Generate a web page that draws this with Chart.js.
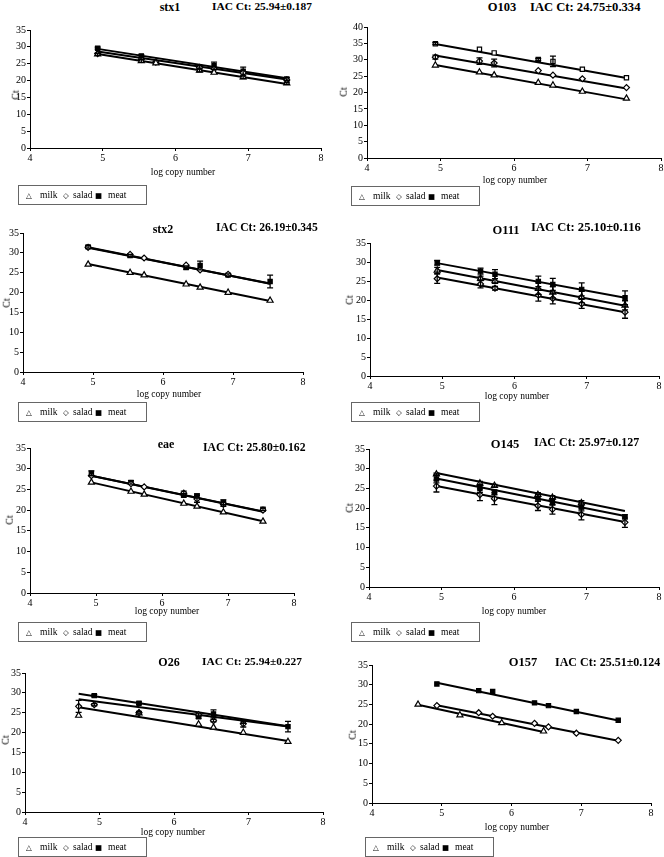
<!DOCTYPE html>
<html>
<head>
<meta charset="utf-8">
<script src="https://cdn.jsdelivr.net/npm/chart.js@4.4.1/dist/chart.umd.min.js"></script>
<style>
  body { margin: 0; background: #fff; width: 664px; height: 857px; position: relative; overflow: hidden; font-family: "Liberation Serif", "Times New Roman", serif; color: #000; }
  canvas { position: absolute; }
  .txt { position: absolute; white-space: nowrap; line-height: 1; }
  .lg { position: absolute; border: 1px solid #666; box-sizing: border-box; background: #fff; }
  .lg span { position: absolute; line-height: 1; white-space: nowrap; }
  .mk { font-family: "DejaVu Sans", sans-serif; font-size: 7.5px; }
</style>
</head>
<body>
<script>
// ----------- Data -----------
const xMain = [4.93, 5.53, 5.73, 6.33, 6.53, 6.93, 7.53];
const xO26 = [4.72, 4.93, 5.53, 6.33, 6.53, 6.93, 7.53];
const xO157Milk = [4.66, 5.26, 5.86, 6.46];
const xFit = [4.93, 7.53];
const xFitO26 = [4.72, 7.53];
const xFitO157Milk = [4.66, 6.46];
const xTicks = [4, 5, 6, 7, 8];
const seriesNames = ["milk", "salad", "meat"];
const genes = ["stx1", "O103", "stx2", "O111", "eae", "O145", "O26", "O157"];
const iacLabels = ["IAC Ct: 25.94±0.187", "IAC Ct: 24.75±0.334", "IAC Ct: 26.19±0.345", "IAC Ct: 25.10±0.116",
                   "IAC Ct: 25.80±0.162", "IAC Ct: 25.97±0.127", "IAC Ct: 25.94±0.227", "IAC Ct: 25.51±0.124"];

// stx1
const stx1Milk = [27.8, 25.8, 25.2, 23.0, 22.4, 21.0, 19.2];
const stx1MilkErr = [0.3, 0.4, 0, 0.4, 0, 0.4, 0.3];
const stx1Salad = [28.0, 26.3, 25.5, 23.9, 23.4, 22.3, 20.2];
const stx1SaladErr = [0, 0, 0, 0, 0, 0, 0];
const stx1Meat = [29.6, 27.3, null, 24.0, 24.4, 22.8, 20.5];
const stx1MeatErr = [0.3, 0.4, 0, 0.4, 1.1, 1.2, 0.4];
const stx1FitMilk = [27.9, 19.0], stx1FitSalad = [28.6, 20.3], stx1FitMeat = [29.4, 20.7];

// O103
const o103Milk = [28.3, 26.2, 25.3, 23.0, 22.2, 20.3, 18.2];
const o103MilkErr = [0, 0, 0, 0, 0, 0, 0];
const o103Salad = [30.8, 29.6, 29.0, 26.7, 25.3, 24.2, 21.5];
const o103SaladErr = [0.6, 1.0, 1.2, 0, 0, 0, 0];
const o103Meat = [34.9, 33.2, 32.1, 30.1, 29.5, 27.1, 24.5];
const o103MeatErr = [0.3, 0, 0, 0.3, 1.6, 0, 0];
const o103FitMilk = [28.4, 17.9], o103FitSalad = [31.3, 21.2], o103FitMeat = [34.8, 24.4];

// stx2
const stx2Milk = [27.1, 25.0, 24.4, 22.1, 21.3, 20.0, 18.0];
const stx2MilkErr = [0, 0, 0, 0, 0, 0, 0];
const stx2Salad = [31.4, 29.6, 28.7, 26.9, 25.7, 24.6, null];
const stx2SaladErr = [0, 0, 0, 0, 0, 0, 0];
const stx2Meat = [31.5, 29.3, null, 26.3, 26.8, 24.4, 22.8];
const stx2MeatErr = [0.3, 0.3, 0, 0.4, 1.1, 0.3, 1.6];
const stx2FitMilk = [27.2, 17.9], stx2FitSalad = [31.3, 22.3], stx2FitMeat = [31.4, 22.2];

// O111
const o111Milk = [27.8, 25.7, 25.0, 23.0, 22.0, 20.8, 18.6];
const o111MilkErr = [0.8, 0.6, 0.6, 1.5, 1.5, 1.5, 1.2];
const o111Salad = [25.6, 24.2, 23.1, 21.3, 20.4, 19.0, 16.8];
const o111SaladErr = [1.2, 1.0, 0.5, 1.6, 1.4, 1.2, 1.6];
const o111Meat = [29.8, 27.6, 26.8, 24.9, 24.1, 22.8, 20.6];
const o111MeatErr = [0.6, 0.8, 1.2, 1.4, 1.6, 1.7, 1.8];
const o111FitMilk = [27.9, 18.5], o111FitSalad = [25.9, 16.8], o111FitMeat = [29.7, 20.6];

// eae
const eaeMilk = [26.7, 24.5, 23.8, 21.6, 20.9, 19.5, 17.3];
const eaeMilkErr = [0, 0, 0, 0, 0, 0, 0];
const eaeSalad = [28.3, 26.4, 25.6, 24.1, 22.7, 21.4, 20.0];
const eaeSaladErr = [0, 0, 0, 0.5, 0.8, 0.5, 0];
const eaeMeat = [28.9, 26.7, null, 23.6, 23.4, 21.9, 20.2];
const eaeMeatErr = [0.6, 0.4, 0, 0.4, 0.5, 0.6, 0.3];
const eaeFitMilk = [26.7, 17.3], eaeFitSalad = [28.3, 19.6], eaeFitMeat = [28.3, 19.7];

// O145
const o145Milk = [28.6, 26.3, 25.7, 23.4, 22.7, 21.3, null];
const o145MilkErr = [0.3, 0.5, 0.3, 0.5, 0.5, 0.6, 0];
const o145Salad = [25.6, 23.4, 22.4, 20.6, 19.7, 18.4, 16.4];
const o145SaladErr = [1.5, 1.5, 1.5, 1.2, 1.2, 1.4, 1.3];
const o145Meat = [27.4, 25.0, 24.0, 22.6, 21.6, 20.3, 17.8];
const o145MeatErr = [1.0, 1.0, 0.6, 0.8, 0.8, 1.0, 0.5];
const o145FitMilk = [28.9, 19.3], o145FitSalad = [25.6, 16.5], o145FitMeat = [27.5, 18.0];

// O26
const o26Milk = [24.3, null, 24.9, 22.1, 21.3, 20.0, 17.7];
const o26MilkErr = [0, 0, 0, 0, 0, 0, 0];
const o26Salad = [26.6, 27.0, 25.0, 24.5, 23.0, 22.2, null];
const o26SaladErr = [1.5, 0.3, 0.3, 0.4, 0.3, 0.8, 0];
const o26Meat = [null, 29.3, 27.4, 24.0, 24.7, 22.7, 21.5];
const o26MeatErr = [0, 0.3, 0.3, 0.4, 1.0, 0.4, 1.3];
const o26FitMilk = [26.4, 17.9], o26FitSalad = [28.4, 21.5], o26FitMeat = [29.8, 21.6];

// O157
const o157Milk = [25.0, 22.3, 20.3, 18.2];
const o157MilkErr = [0, 0, 0, 0];
const o157Salad = [24.7, 22.9, 22.0, 20.2, 19.3, 17.7, 15.9];
const o157SaladErr = [0, 0, 0, 0, 0, 0, 0];
const o157Meat = [30.2, 28.5, 28.3, 25.4, 24.7, 23.2, 21.0];
const o157MeatErr = [0, 0, 0, 0, 0, 0, 0];
const o157FitMilk = [24.9, 18.0], o157FitSalad = [24.8, 15.8], o157FitMeat = [30.5, 20.9];

// ----------- Panel layout (pixel positions) -----------
const panels = [
  { plot: [30, 321, 30, 148], yMax: 35, gene: [170, 7, 12], iac: [212, 7, 11.4], xt: [183, 173], ct: [16, 95], lg: [18, 185],
    x: [xMain, xMain, xMain], y: [stx1Milk, stx1Salad, stx1Meat], err: [stx1MilkErr, stx1SaladErr, stx1MeatErr],
    fx: [xFit, xFit, xFit], fy: [stx1FitMilk, stx1FitSalad, stx1FitMeat] },
  { plot: [367, 661, 27, 158], yMax: 40, gene: [502, 7, 12.5], iac: [530, 7, 12.6], xt: [515, 181], ct: [344, 92], lg: [351, 186],
    x: [xMain, xMain, xMain], y: [o103Milk, o103Salad, o103Meat], err: [o103MilkErr, o103SaladErr, o103MeatErr],
    fx: [xFit, xFit, xFit], fy: [o103FitMilk, o103FitSalad, o103FitMeat], openMeat: true },
  { plot: [23, 303, 233, 372], yMax: 35, gene: [163, 229, 12], iac: [216, 228, 11.6], xt: [169, 395], ct: [7, 303], lg: [18, 402],
    x: [xMain, xMain, xMain], y: [stx2Milk, stx2Salad, stx2Meat], err: [stx2MilkErr, stx2SaladErr, stx2MeatErr],
    fx: [xFit, xFit, xFit], fy: [stx2FitMilk, stx2FitSalad, stx2FitMeat] },
  { plot: [370, 659, 243, 376], yMax: 35, gene: [506, 230, 12.5], iac: [531, 227, 12.6], xt: [517, 397], ct: [350, 300], lg: [351, 402],
    x: [xMain, xMain, xMain], y: [o111Milk, o111Salad, o111Meat], err: [o111MilkErr, o111SaladErr, o111MeatErr],
    fx: [xFit, xFit, xFit], fy: [o111FitMilk, o111FitSalad, o111FitMeat] },
  { plot: [30, 294, 448, 593], yMax: 35, gene: [166, 444, 12], iac: [203, 448, 11.7], xt: [167, 612], ct: [10, 520], lg: [18, 622],
    x: [xMain, xMain, xMain], y: [eaeMilk, eaeSalad, eaeMeat], err: [eaeMilkErr, eaeSaladErr, eaeMeatErr],
    fx: [xFit, xFit, xFit], fy: [eaeFitMilk, eaeFitSalad, eaeFitMeat] },
  { plot: [369, 659, 449, 587], yMax: 35, gene: [505, 444, 12.5], iac: [534, 442, 12], xt: [514, 612], ct: [350, 508], lg: [351, 622],
    x: [xMain, xMain, xMain], y: [o145Milk, o145Salad, o145Meat], err: [o145MilkErr, o145SaladErr, o145MeatErr],
    fx: [xFit, xFit, xFit], fy: [o145FitMilk, o145FitSalad, o145FitMeat] },
  { plot: [25, 323, 673, 812], yMax: 35, gene: [169, 662, 12], iac: [202, 662, 11.4], xt: [173, 833], ct: [6, 740], lg: [18, 837],
    x: [xO26, xO26, xO26], y: [o26Milk, o26Salad, o26Meat], err: [o26MilkErr, o26SaladErr, o26MeatErr],
    fx: [xFitO26, xFitO26, xFitO26], fy: [o26FitMilk, o26FitSalad, o26FitMeat] },
  { plot: [372, 651, 665, 803], yMax: 35, gene: [523, 662, 12.5], iac: [555, 662, 12], xt: [517, 828], ct: [353, 735], lg: [365, 837],
    x: [xO157Milk, xMain, xMain], y: [o157Milk, o157Salad, o157Meat], err: [o157MilkErr, o157SaladErr, o157MeatErr],
    fx: [xFitO157Milk, xFit, xFit], fy: [o157FitMilk, o157FitSalad, o157FitMeat] }
];

const markerStyles = [
  { pointStyle: "triangle", radius: 3.5, bg: "#fff" },
  { pointStyle: "rectRot", radius: 3, bg: "#fff" },
  { pointStyle: "rect", radius: 3, bg: "#000" }
];

// ----------- Error bars plugin -----------
const errorBars = {
  id: "errorBars",
  afterDatasetsDraw(chart) {
    const { ctx, scales: { x, y } } = chart;
    ctx.save();
    ctx.strokeStyle = "#000";
    ctx.lineWidth = 1.3;
    chart.data.datasets.forEach(ds => {
      if (!ds.errs) return;
      ds.data.forEach((pt, i) => {
        const e = ds.errs[i];
        if (!e) return;
        const px = x.getPixelForValue(pt.x);
        const top = y.getPixelForValue(pt.y + e), bot = y.getPixelForValue(pt.y - e);
        ctx.beginPath();
        ctx.moveTo(px, top); ctx.lineTo(px, bot);
        ctx.moveTo(px - 3, top); ctx.lineTo(px + 3, top);
        ctx.moveTo(px - 3, bot); ctx.lineTo(px + 3, bot);
        ctx.stroke();
      });
    });
    ctx.restore();
  }
};

// ----------- Helpers -----------
function addText(str, x, y, size, opts = {}) {
  const d = document.createElement("div");
  d.className = "txt";
  d.textContent = str;
  d.style.fontSize = size + "px";
  d.style.top = (y - size / 2) + "px";
  d.style.left = x + "px";
  if (opts.bold) d.style.fontWeight = "bold";
  let tf = "";
  if (opts.center) tf += "translateX(-50%) ";
  if (opts.rotate) tf += "rotate(-90deg)";
  if (tf) d.style.transform = tf;
  document.body.appendChild(d);
}

function addLegend(x, y) {
  const box = document.createElement("div");
  box.className = "lg";
  Object.assign(box.style, { left: x + "px", top: y + "px", width: "129px", height: "20px" });
  const items = [["△", 7, seriesNames[0], 21], ["◇", 44, seriesNames[1], 54], ["■", 76, seriesNames[2], 89]];
  items.forEach(([m, mx, label, lx]) => {
    const s = document.createElement("span");
    s.className = "mk"; s.textContent = m;
    Object.assign(s.style, { left: mx + "px", top: "6px" });
    box.appendChild(s);
    const t = document.createElement("span");
    t.textContent = label;
    Object.assign(t.style, { left: lx + "px", top: "5px", fontSize: "9.5px" });
    box.appendChild(t);
  });
  document.body.appendChild(box);
}

const tickFont = { family: "'Liberation Serif', serif", size: 10 };
const Y_W = 30, X_H = 20, PAD_T = 8, PAD_R = 8;

// ----------- Build panels -----------
panels.forEach((p, idx) => {
  const [l, r, t, b] = p.plot;
  const cv = document.createElement("canvas");
  const W = r - l + Y_W + PAD_R, H = b - t + PAD_T + X_H;
  cv.width = W; cv.height = H;
  Object.assign(cv.style, { left: (l - Y_W) + "px", top: (t - PAD_T) + "px", width: W + "px", height: H + "px" });
  document.body.appendChild(cv);

  const datasets = [];
  for (let s = 0; s < 3; s++) {
    const pts = [], errs = [];
    p.x[s].forEach((xv, i) => {
      if (p.y[s][i] == null) return;
      pts.push({ x: xv, y: p.y[s][i] });
      errs.push(p.err[s][i]);
    });
    const m = markerStyles[s];
    const bg = (s === 2 && p.openMeat) ? "#fff" : m.bg;
    datasets.push({
      label: seriesNames[s], data: pts, errs, showLine: false, order: 1,
      pointStyle: m.pointStyle, pointRadius: m.radius, pointBackgroundColor: bg,
      pointBorderColor: "#000", pointBorderWidth: 1.2
    });
    datasets.push({
      label: seriesNames[s] + " fit", order: 2, showLine: true, pointRadius: 0,
      data: p.fx[s].map((xv, i) => ({ x: xv, y: p.fy[s][i] })),
      borderColor: "#000", borderWidth: 2
    });
  }

  new Chart(cv, {
    type: "scatter",
    data: { datasets },
    options: {
      responsive: false, animation: false, devicePixelRatio: 1,
      layout: { padding: { top: PAD_T, right: PAD_R, left: 0, bottom: 0 } },
      plugins: { legend: { display: false }, tooltip: { enabled: false } },
      scales: {
        x: {
          type: "linear", min: xTicks[0], max: xTicks[xTicks.length - 1],
          afterBuildTicks: s => { s.ticks = xTicks.map(v => ({ value: v })); },
          ticks: { font: tickFont, color: "#000", padding: 1 },
          grid: { drawOnChartArea: false, drawTicks: true, tickLength: 3, color: "#000" },
          border: { display: true, color: "#000", width: 1 },
          afterFit: s => { s.height = X_H; }
        },
        y: {
          min: 0, max: p.yMax,
          ticks: { stepSize: 5, font: tickFont, color: "#000", padding: 1 },
          grid: { drawOnChartArea: false, drawTicks: true, tickLength: 3, color: "#000" },
          border: { display: true, color: "#000", width: 1 },
          afterFit: s => { s.width = Y_W; }
        }
      }
    },
    plugins: [errorBars]
  });

  addText(genes[idx], p.gene[0], p.gene[1], p.gene[2], { bold: true, center: true });
  addText(iacLabels[idx], p.iac[0], p.iac[1], p.iac[2], { bold: true });
  addText("log copy number", p.xt[0], p.xt[1], 9.5, { center: true });
  addText("Ct", p.ct[0] - 5, p.ct[1], 10, { rotate: true });
  addLegend(p.lg[0], p.lg[1]);
});
</script>
</body>
</html>
